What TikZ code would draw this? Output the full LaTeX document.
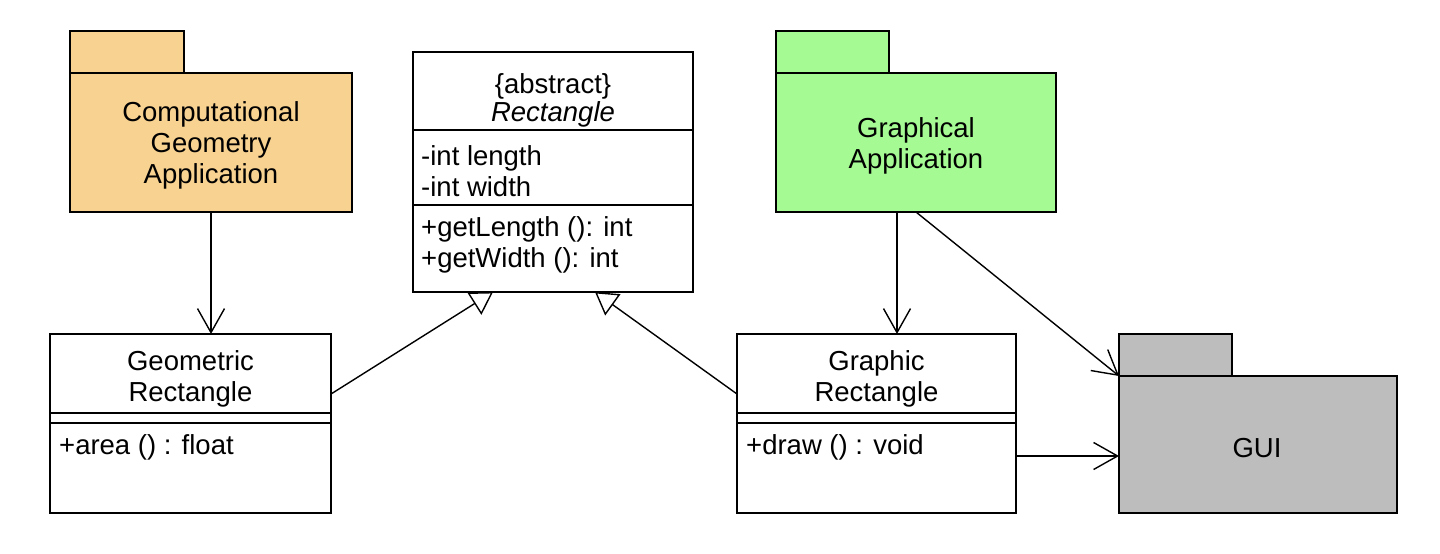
\documentclass[tikz,border=0pt]{standalone}
\usepackage{fontspec}
\setmainfont{Liberation Sans}
\usetikzlibrary{arrows.meta,calc}
\definecolor{pkgorange}{HTML}{F8D291}
\definecolor{pkggreen}{HTML}{A5FA93}
\definecolor{pkggray}{HTML}{BDBDBD}
\begin{document}
\begin{tikzpicture}[x=1pt,y=-1pt,
  box/.style={draw, line width=1.6pt, fill=white, inner sep=0pt, outer sep=0pt},
  pkg/.style={draw, line width=1.8pt, inner sep=0pt, outer sep=0pt},
  lbl/.style={font=\fontsize{27.5}{31}\selectfont, align=center, inner sep=0pt},
  lblL/.style={lbl, align=left, anchor=west},
  dep/.style={line width=1.4pt, -{Straight Barb[length=24pt,width=27pt,line width=1.4pt]}},
  gen/.style={line width=1.4pt, -{Triangle[open,length=22pt,width=26pt,line width=1.4pt]}}]
\useasboundingbox (0,0) rectangle (1440,554);
% Computational Geometry Application package
\node[pkg, fill=pkgorange, minimum width=114pt, minimum height=42pt] (cgaT) at (127,52) {};
\node[pkg, fill=pkgorange, minimum width=282pt, minimum height=139pt] (cgaB) at (211,142.5) {};
\node[lbl] (cgaL) at (211,145) {Computational\\Geometry\\Application};
% Graphical Application package
\node[pkg, fill=pkggreen, minimum width=113pt, minimum height=42pt] (gaT) at (832.5,52) {};
\node[pkg, fill=pkggreen, minimum width=280pt, minimum height=139pt] (gaB) at (916,142.5) {};
\node[lbl] (gaL) at (916,145.5) {Graphical\\Application};
% GUI package
\node[pkg, fill=pkggray, minimum width=113pt, minimum height=42pt] (guiT) at (1175.5,355) {};
\node[pkg, fill=pkggray, minimum width=278pt, minimum height=137pt] (guiB) at (1258,444.5) {};
\node[lbl] (guiL) at (1257,448) {GUI};
% Abstract class Rectangle
\node[box, minimum width=280pt, minimum height=78pt] (rectT) at (553,91) {};
\node[box, minimum width=280pt, minimum height=75pt] (rectA) at (553,167.5) {};
\node[box, minimum width=280pt, minimum height=87pt] (rectM) at (553,248.5) {};
\node[lbl, font=\fontsize{27.5}{28}\selectfont] (rectL) at (553,100) {\{abstract\}\\\textit{Rectangle}};
\node[lblL] (rectAL) at (421,171) {-int length\\-int width};
\node[lblL] (rectML) at (421,245) {+getLength (): int\\+getWidth (): int};
% Geometric Rectangle
\node[box, minimum width=281pt, minimum height=79pt] (geoT) at (190.5,373.5) {};
\node[box, minimum width=281pt, minimum height=10pt] (geoA) at (190.5,418) {};
\node[box, minimum width=281pt, minimum height=90pt] (geoM) at (190.5,468) {};
\node[lbl] (geoL) at (190.5,379) {Geometric\\Rectangle};
\node[lblL] (geoML) at (59,447) {+area () : float};
% Graphic Rectangle
\node[box, minimum width=279pt, minimum height=79pt] (grT) at (876.5,373.5) {};
\node[box, minimum width=279pt, minimum height=10pt] (grA) at (876.5,418) {};
\node[box, minimum width=279pt, minimum height=90pt] (grM) at (876.5,468) {};
\node[lbl] (grL) at (876.5,379) {Graphic\\Rectangle};
\node[lblL] (grML) at (746,447) {+draw () : void};
% Connectors
\draw[dep] (cgaB.south) -- (cgaB.south |- geoT.north);
\draw[dep] ([xshift=-19pt]gaB.south) -- ([xshift=-19pt]gaB.south |- grT.north);
\draw[dep] (gaB.south) -- (guiT.south west);
\draw[dep] ([yshift=12pt]grM.east) -- ([yshift=12pt]grM.east -| guiB.west);
\draw[gen] ([yshift=-20.5pt]geoT.east) -- ([xshift=-60pt]rectM.south);
\draw[gen] ([yshift=-20.5pt]grT.west) -- ([xshift=42pt]rectM.south);
\end{tikzpicture}
\end{document}
